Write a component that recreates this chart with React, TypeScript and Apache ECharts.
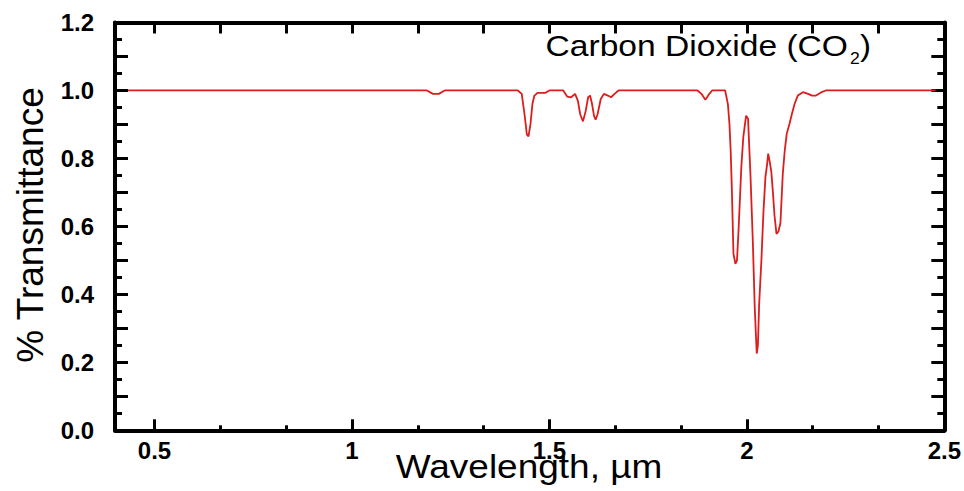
import React, { useEffect, useRef } from "react";
import * as echarts from "echarts";

// Wavelength (µm) and transmittance
const wavelengths = [
  0.433, 1.19, 1.205, 1.22, 1.235, 1.42, 1.43, 1.437, 1.443, 1.447, 1.452, 1.457, 1.462, 1.47, 1.49, 1.5,
  1.535, 1.545, 1.555, 1.565, 1.572, 1.578, 1.585, 1.592, 1.598, 1.603, 1.608, 1.613, 1.617, 1.622, 1.63,
  1.638, 1.648, 1.656, 1.665, 1.675, 1.875, 1.885, 1.895, 1.905, 1.912, 1.945, 1.952, 1.956, 1.959, 1.962,
  1.966, 1.971, 1.975, 1.979, 1.986, 1.991, 1.998, 2.003, 2.009, 2.015, 2.02, 2.025, 2.028, 2.031, 2.037,
  2.042, 2.047, 2.051, 2.054, 2.058, 2.062, 2.066, 2.07, 2.075, 2.08, 2.085, 2.091, 2.096, 2.101, 2.108,
  2.114, 2.121, 2.129, 2.142, 2.155, 2.165, 2.175, 2.189, 2.2, 2.478,
];
const transmittance = [
  1.0, 1.0, 0.99, 0.99, 1.0, 1.0, 0.99, 0.93, 0.87, 0.865, 0.9, 0.96, 0.985, 0.993, 0.993, 1.0,
  1.0, 0.982, 0.98, 0.99, 0.97, 0.93, 0.909, 0.94, 0.98, 0.985, 0.96, 0.925, 0.914, 0.93, 0.975,
  0.99, 0.985, 0.98, 0.99, 1.0, 1.0, 0.99, 0.973, 0.99, 1.0, 1.0, 0.96, 0.9, 0.824, 0.71,
  0.52, 0.49, 0.5, 0.59, 0.775, 0.863, 0.926, 0.917, 0.755, 0.56, 0.36, 0.226, 0.25, 0.368, 0.505,
  0.642, 0.745, 0.78, 0.814, 0.79, 0.76, 0.7, 0.632, 0.578, 0.585, 0.61, 0.755, 0.824, 0.873, 0.902,
  0.931, 0.961, 0.985, 0.995, 0.99, 0.985, 0.985, 0.995, 1.0, 1.0,
];

const xMajorTicks = [0.5, 1, 1.5, 2, 2.5];
const xMinorTicks = [0.6667, 0.8333, 1.1667, 1.3333, 1.6667, 1.8333, 2.1667, 2.3333];
const xTopTicks = [0.5, 0.6667, 0.8333, 1, 1.1667, 1.3333, 1.5, 1.6667, 1.8333, 2, 2.1667, 2.3333];
const yLabelTicks = [0, 0.2, 0.4, 0.6, 0.8, 1.0, 1.2];

const FONT = "'Liberation Sans', Arial, Helvetica, sans-serif";

export default function App() {
  const ref = useRef<HTMLDivElement>(null);
  useEffect(() => {
    if (!ref.current) return;
    const chart = echarts.init(ref.current, undefined, { renderer: "svg" });
    const data = wavelengths.map((w, i) => [w, transmittance[i]]);
    const axisLine = { show: true, lineStyle: { color: "#000", width: 4 } };
    const xBase = { type: "value", min: 0.4, max: 2.5, splitLine: { show: false } };
    const yBase = {
      type: "value",
      min: 0,
      max: 1.2,
      interval: 0.1,
      splitLine: { show: false },
      axisLine,
      axisTick: { show: true, inside: true, length: 13, lineStyle: { color: "#000", width: 3 } },
      minorTick: { show: true, splitNumber: 2, length: 7, lineStyle: { color: "#000", width: 3 } },
      minorSplitLine: { show: false },
    };
    chart.setOption({
      animation: false,
      backgroundColor: "#fff",
      grid: { left: 115, right: 18.5, top: 22.5, bottom: 60.7, containLabel: false },
      xAxis: [
        {
          ...xBase,
          position: "bottom",
          axisLine,
          axisTick: { show: true, inside: true, length: 11, customValues: xMajorTicks, lineStyle: { color: "#000", width: 3 } },
          axisLabel: {
            show: true,
            customValues: xMajorTicks,
            margin: 8,
            color: "#000",
            fontFamily: FONT,
            fontSize: 24,
            fontWeight: "bold",
            formatter: (v: number) => String(v),
          },
        },
        {
          ...xBase,
          position: "bottom",
          axisLine: { show: false },
          axisTick: { show: true, inside: true, length: 5, customValues: xMinorTicks, lineStyle: { color: "#000", width: 3 } },
          axisLabel: { show: false },
        },
        {
          ...xBase,
          position: "top",
          axisLine,
          axisTick: { show: true, inside: true, length: 11, customValues: xTopTicks, lineStyle: { color: "#000", width: 3 } },
          axisLabel: { show: false },
        },
      ],
      yAxis: [
        {
          ...yBase,
          position: "left",
          axisLabel: {
            show: true,
            customValues: yLabelTicks,
            margin: 21,
            color: "#000",
            fontFamily: FONT,
            fontSize: 24,
            fontWeight: "bold",
            formatter: (v: number) => v.toFixed(1),
          },
        },
        {
          ...yBase,
          position: "right",
          axisLabel: { show: false },
        },
      ],
      series: [
        {
          type: "line",
          xAxisIndex: 0,
          yAxisIndex: 0,
          data,
          showSymbol: false,
          symbol: "none",
          lineStyle: { color: "#dd1c1c", width: 1.8 },
          z: 1,
        },
      ],
      graphic: [
        {
          type: "text",
          x: 529,
          y: 467,
          scaleX: 1.088,
          style: {
            text: "Wavelength, µm",
            fontFamily: FONT,
            fontSize: 34,
            fill: "#000",
            textAlign: "center",
            textVerticalAlign: "middle",
          },
        },
        {
          type: "text",
          x: 30,
          y: 225,
          rotation: Math.PI / 2,
          style: {
            text: "% Transmittance",
            fontFamily: FONT,
            fontSize: 37,
            fill: "#000",
            textAlign: "center",
            textVerticalAlign: "middle",
          },
        },
        {
          type: "text",
          x: 848,
          y: 46,
          scaleX: 1.12,
          style: {
            text: "Carbon Dioxide (CO",
            fontFamily: FONT,
            fontSize: 30,
            fill: "#000",
            textAlign: "right",
            textVerticalAlign: "middle",
          },
        },
        {
          type: "text",
          x: 850,
          y: 59,
          scaleX: 1.1,
          style: {
            text: "2",
            fontFamily: FONT,
            fontSize: 16,
            fill: "#000",
            textAlign: "left",
            textVerticalAlign: "middle",
          },
        },
        {
          type: "text",
          x: 860,
          y: 46,
          scaleX: 1.1,
          style: {
            text: ")",
            fontFamily: FONT,
            fontSize: 30,
            fill: "#000",
            textAlign: "left",
            textVerticalAlign: "middle",
          },
        },
      ],
    });
    return () => chart.dispose();
  }, []);
  return (
    <div
      ref={ref}
      style={{ position: "fixed", left: 0, top: 0, width: 964, height: 491, background: "#fff" }}
    />
  );
}
